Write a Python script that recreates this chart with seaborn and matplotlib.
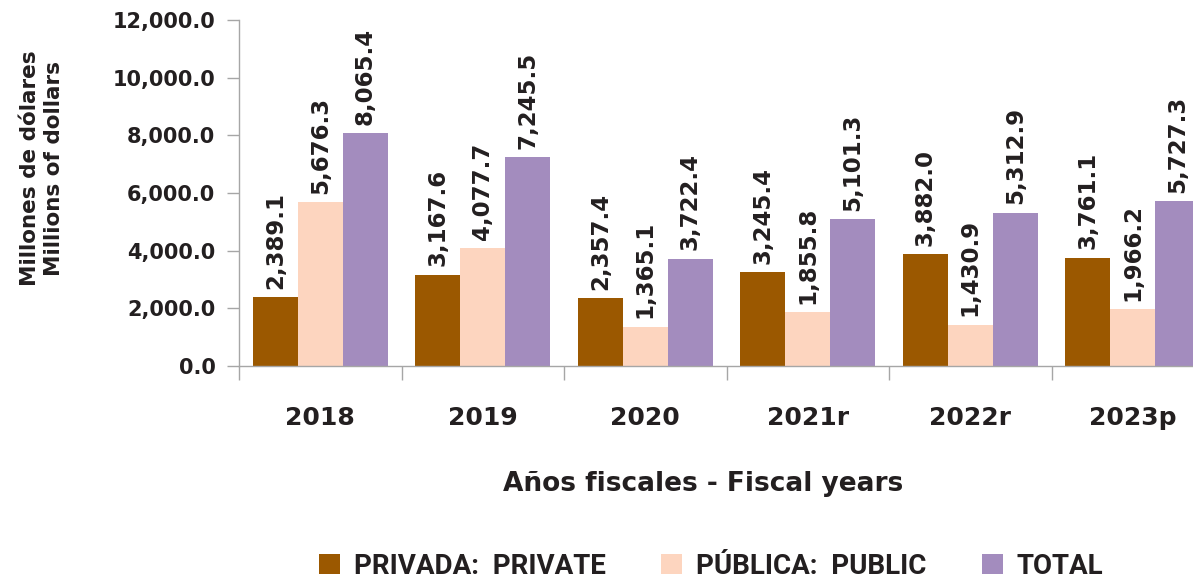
import matplotlib
matplotlib.use("Agg")
import matplotlib.pyplot as plt
import seaborn as sns
import pandas as pd
from matplotlib.patches import Patch

years = ["2018", "2019", "2020", "2021r", "2022r", "2023p"]
series = ["PRIVADA:  PRIVATE", "PÚBLICA:  PUBLIC", "TOTAL"]
privada = [2389.1, 3167.6, 2357.4, 3245.4, 3882.0, 3761.1]
publica = [5676.3, 4077.7, 1365.1, 1855.8, 1430.9, 1966.2]
total = [8065.4, 7245.5, 3722.4, 5101.3, 5312.9, 5727.3]
colors = ["#9B5800", "#FDD5BF", "#A38CBE"]
yticks = [0, 2000, 4000, 6000, 8000, 10000, 12000]

rows = []
for s, vals in zip(series, [privada, publica, total]):
    for y, v in zip(years, vals):
        rows.append({"year": y, "serie": s, "value": v})
df = pd.DataFrame(rows)

sns.set_theme(style="white")
plt.rcParams["font.family"] = ["DejaVu Sans"]
txt = "#231F20"

fig = plt.figure(figsize=(11.93, 5.82), dpi=100)
ax = fig.add_axes([239 / 1193, 1 - 366 / 582, 975 / 1193, 346 / 582])

sns.barplot(data=df, x="year", y="value", hue="serie", order=years,
            hue_order=series, palette=colors, width=0.83, saturation=1,
            ax=ax, legend=False, linewidth=0)

for cont, vals in zip(ax.containers, [privada, publica, total]):
    ax.bar_label(cont, labels=[f"{v:,.1f}" for v in vals], rotation=90,
                 padding=6, fontsize=16.5, fontweight="bold", color=txt)

ax.set_xlim(-0.5, 5.5)
ax.set_ylim(0, 12000)
ax.set_yticks(yticks)
ax.set_yticklabels([f"{v:,.1f}" for v in yticks], fontsize=15,
                   fontweight="bold", color=txt)
ax.tick_params(axis="y", which="major", length=9, width=1, color="#A6A6A6",
               pad=8, left=True)
ax.set_xticks(range(len(years)))
ax.set_xticklabels(years, fontsize=18, fontweight="bold", color=txt)
ax.tick_params(axis="x", which="major", length=0, pad=29)
ax.set_xticks([i - 0.5 for i in range(len(years) + 1)], minor=True)
ax.tick_params(axis="x", which="minor", length=10, width=1, color="#A6A6A6",
               bottom=True)
ax.set_xlabel("")
ax.set_ylabel("")
for sp in ["top", "right"]:
    ax.spines[sp].set_visible(False)
for sp in ["left", "bottom"]:
    ax.spines[sp].set_color("#A6A6A6")
    ax.spines[sp].set_linewidth(1)
ax.grid(False)

fig.text(42 / 1193, 1 - 168 / 582, "Millones de dólares\nMillions of dollars",
         rotation=90, ha="center", va="center", fontsize=15.5,
         fontweight="bold", color=txt, linespacing=1.2)
fig.text(703 / 1193, 1 - 484 / 582, "Años fiscales - Fiscal years",
         ha="center", va="center", fontsize=19, fontweight="bold", color=txt)

handles = [Patch(facecolor=c, edgecolor="none") for c in colors]
leg = fig.legend(handles, series, loc="center", bbox_to_anchor=(711 / 1193, 1 - 566 / 582),
                 ncol=3, frameon=False, handlelength=0.75, handleheight=0.75,
                 handletextpad=0.5, columnspacing=2.0,
                 prop={"family": ["Roboto", "DejaVu Sans"], "weight": "bold", "size": 20})
for t in leg.get_texts():
    t.set_color(txt)

fig.savefig("out.png", dpi=100)
